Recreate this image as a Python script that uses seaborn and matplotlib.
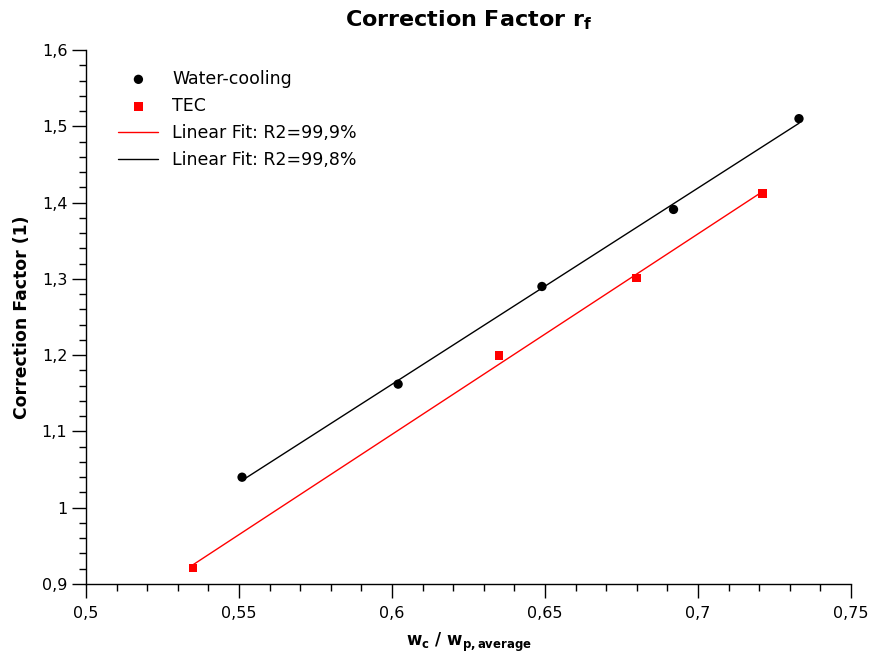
import numpy as np
import pandas as pd
import matplotlib
matplotlib.use("Agg")
import matplotlib.pyplot as plt
from matplotlib.ticker import MultipleLocator, FuncFormatter
import seaborn as sns

# Data
water_x = [0.551, 0.602, 0.649, 0.692, 0.733]
water_y = [1.040, 1.162, 1.290, 1.391, 1.510]
tec_x = [0.535, 0.635, 0.680, 0.721]
tec_y = [0.921, 1.200, 1.301, 1.412]

series_labels = ["Water-cooling", "TEC"]
fit_labels = ["Linear Fit: R2=99,9%", "Linear Fit: R2=99,8%"]

sns.set_style("ticks")
plt.rcParams['font.family'] = ['DejaVu Sans']
plt.rcParams['text.color'] = 'black'
plt.rcParams['axes.labelcolor'] = 'black'

fig = plt.figure(figsize=(8.74, 6.53), dpi=100)
ax = fig.add_axes([86/874, 1-584/653, (851-86)/874, (584-50)/653])

df_w = pd.DataFrame({"x": water_x, "y": water_y})
df_t = pd.DataFrame({"x": tec_x, "y": tec_y})

sns.regplot(data=df_t, x="x", y="y", ax=ax, scatter=False, ci=None, truncate=True,
            label=fit_labels[0], color="#ff0000", line_kws={"lw": 1.0, "zorder": 2})
sns.regplot(data=df_w, x="x", y="y", ax=ax, scatter=False, ci=None, truncate=True,
            label=fit_labels[1], color="black", line_kws={"lw": 1.0, "zorder": 2})
sns.scatterplot(data=df_w, x="x", y="y", ax=ax, color="black", marker="o", s=45,
                edgecolor="none", label=series_labels[0], zorder=3)
sns.scatterplot(data=df_t, x="x", y="y", ax=ax, color="#ff0000", marker="s", s=40,
                edgecolor="none", label=series_labels[1], zorder=3)

ax.set_xlim(0.5, 0.75)
ax.set_ylim(0.9, 1.6)
ax.xaxis.set_major_locator(MultipleLocator(0.05))
ax.xaxis.set_minor_locator(MultipleLocator(0.01))
ax.yaxis.set_major_locator(MultipleLocator(0.1))
ax.yaxis.set_minor_locator(MultipleLocator(0.02))
fmt = FuncFormatter(lambda v, p: ("%g" % round(v, 4)).replace(".", ","))
ax.xaxis.set_major_formatter(fmt)
ax.yaxis.set_major_formatter(fmt)
ax.tick_params(which="major", direction="out", length=10, width=1, labelsize=11.5,
               colors="black", labelcolor="black")
ax.tick_params(which="minor", direction="out", length=5, width=1, colors="black")
ax.tick_params(axis="x", pad=6)
sns.despine(ax=ax)
for s in ["left", "bottom"]:
    ax.spines[s].set_linewidth(1.0)
    ax.spines[s].set_color("black")

ax.set_title(r"Correction Factor $\mathbf{r_f}$", fontsize=16, fontweight="bold",
             pad=17, color="black")
ax.set_xlabel(r"$\mathbf{w_c}$ / $\mathbf{w_{p,average}}$", fontsize=12,
              fontweight="bold", labelpad=7, color="black")
ax.set_ylabel("Correction Factor (1)", fontsize=12.4, fontweight="bold",
              labelpad=8, color="black")

handles, labels = ax.get_legend_handles_labels()
hmap = dict(zip(labels, handles))
order = [l for l in [series_labels[0], series_labels[1], fit_labels[0], fit_labels[1]] if l in hmap]
ax.legend([hmap[l] for l in order], order, loc="upper left", frameon=False,
          fontsize=12.5, bbox_to_anchor=(0.022, 0.992), handlelength=2.3,
          labelspacing=0.52, labelcolor="black")

fig.savefig("out.png", dpi=100)
